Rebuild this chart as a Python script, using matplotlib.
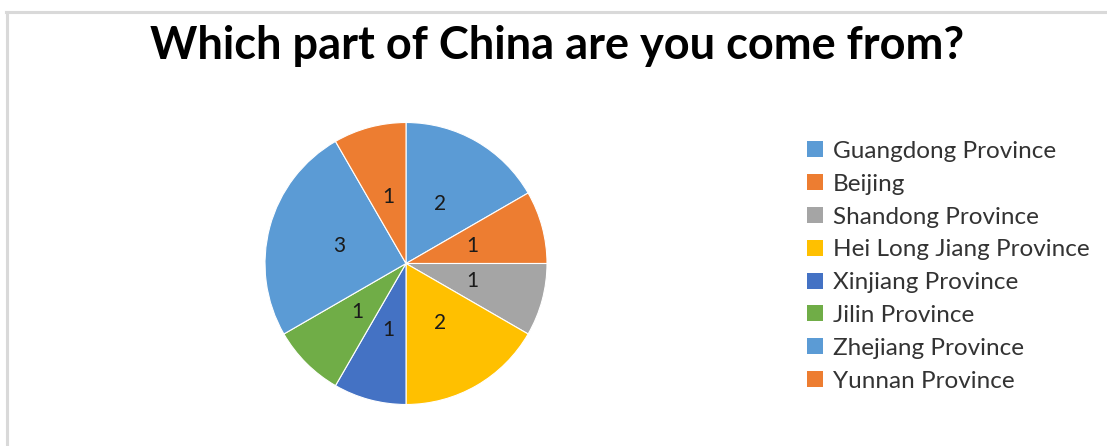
import matplotlib
matplotlib.use("Agg")
import matplotlib.pyplot as plt
from matplotlib.patches import Patch

categories = ["Guangdong Province", "Beijing", "Shandong Province", "Hei Long Jiang Province",
              "Xinjiang Province", "Jilin Province", "Zhejiang Province", "Yunnan Province"]
values = [2, 1, 1, 2, 1, 1, 3, 1]
colors = ["#5B9BD5", "#ED7D31", "#A5A5A5", "#FFC000", "#4472C4", "#70AD47", "#5B9BD5", "#ED7D31"]
title = "Which part of China are you come from?"

FONT = "Lato"
W, H = 1107, 446
fig = plt.figure(figsize=(W / 100, H / 100), dpi=100)
fig.patch.set_facecolor("white")

# chart border (top and left visible)
fig.add_artist(plt.Line2D([6 / W, 1], [1 - 11.5 / H, 1 - 11.5 / H], color="#D9D9D9", lw=2.2))
fig.add_artist(plt.Line2D([6.5 / W, 6.5 / W], [0, 1 - 11.5 / H], color="#D9D9D9", lw=2.2))

cx, cy, r = 406, 263.5, 141
ax = fig.add_axes([(cx - r) / W, 1 - (cy + r) / H, 2 * r / W, 2 * r / H])
wedges, texts = ax.pie(values, colors=colors, startangle=90, counterclock=False,
                       labels=[str(v) for v in values], labeldistance=0.49,
                       wedgeprops=dict(linewidth=0.8, edgecolor="white"),
                       textprops=dict(fontsize=15, color="#1a1a1a", family=FONT))
for t in texts:
    t.set_ha("center")
    t.set_va("center")
ax.set_aspect("equal")
ax.set_xlim(-1, 1)
ax.set_ylim(-1, 1)

fig.text(557 / W, 1 - 46 / H, title, ha="center", va="center",
         fontsize=32.5, fontweight="bold", family=FONT, color="black")

handles = [Patch(facecolor=c, edgecolor="none") for c in colors]
leg = fig.legend(handles, categories, loc="upper left",
                 bbox_to_anchor=(807 / W, 1 - 141 / H), frameon=False,
                 prop=dict(family=FONT, size=17.5), labelcolor="#333333",
                 handlelength=0.64, handleheight=0.64, handletextpad=0.42,
                 labelspacing=0.485, borderpad=0, borderaxespad=0)

fig.savefig("out.png", dpi=100, facecolor="white")
